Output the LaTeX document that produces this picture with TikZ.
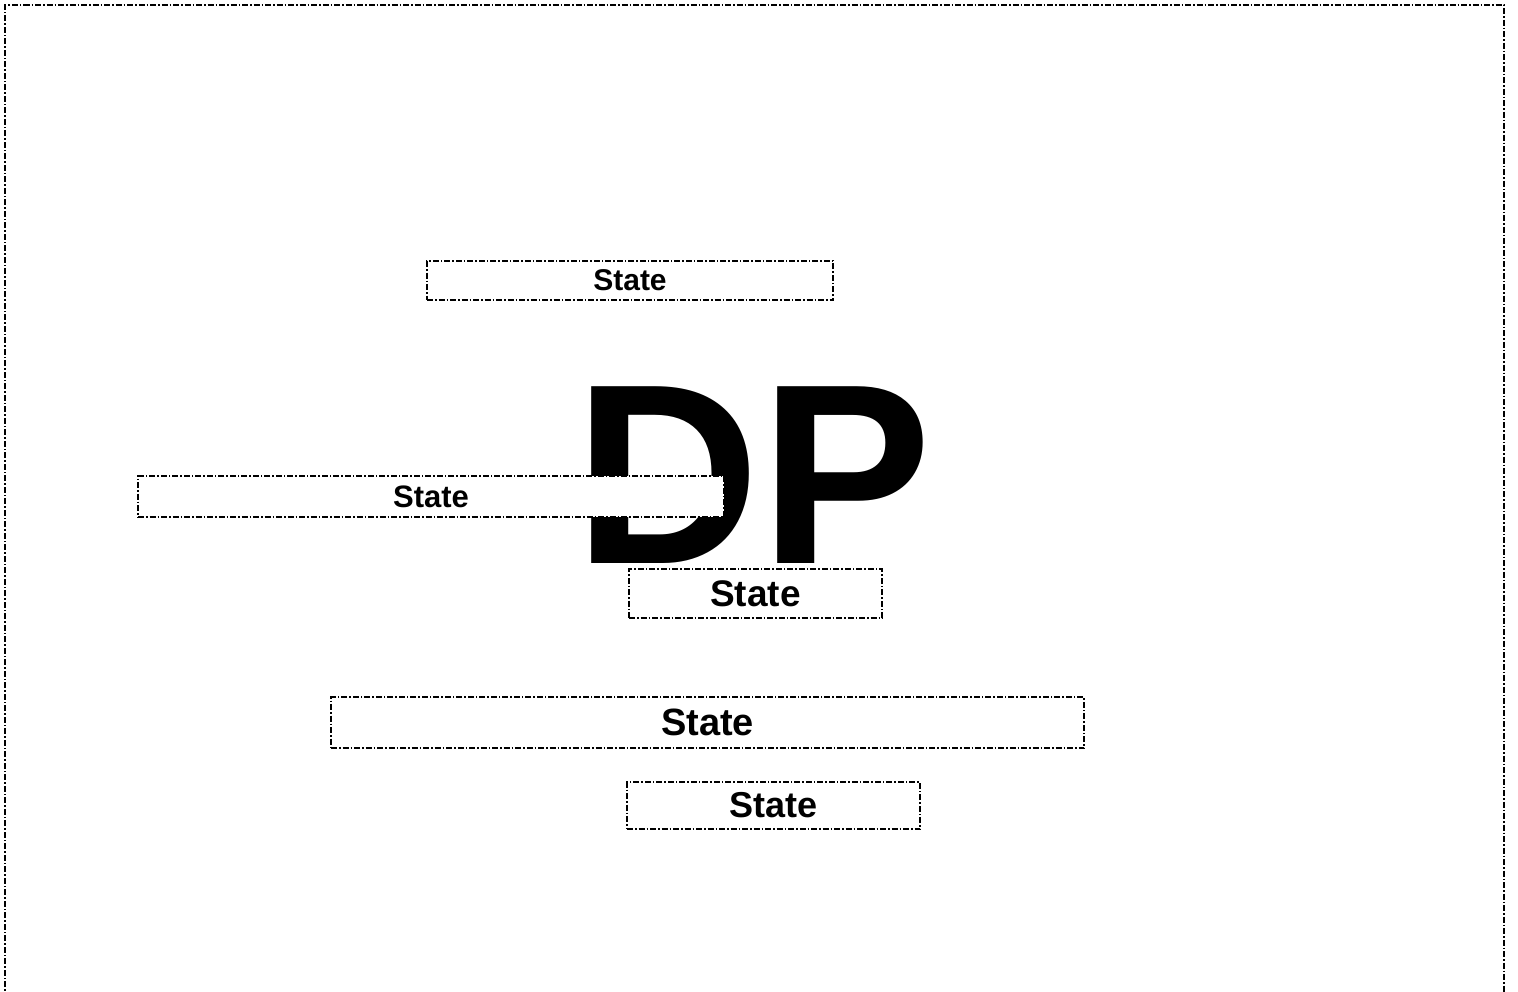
\documentclass[tikz,border=0pt]{standalone}
\usepackage{fontspec}
\setmainfont{Liberation Sans}
\tikzset{
  dashdot/.style={line width=1.2pt,dash pattern=on 6pt off 2pt on 1.5pt off 2pt},
  statebox/.style={dashdot,draw=black,fill=white,inner sep=0pt,font=\bfseries},
}
\begin{document}
\begin{tikzpicture}[x=1pt,y=-1pt]
  \useasboundingbox (0,0) rectangle (1518,991);
  \draw[dashdot,line width=1.5pt] (5,1010) -- (5,5) -- (1504,5) -- (1504,1010);
  \node[anchor=base,inner sep=0pt,font=\fontsize{257}{257}\selectfont\bfseries] (dp) at (753,563) {DP};
  \foreach \n/\x/\y/\w/\h/\s in {1/630/280.5/406/39/30, 2/431/496.5/586/41/31,
                                 3/755.5/593.5/253/49/37, 4/707.5/722.5/753/51/38,
                                 5/773.5/805.5/293/47/36}{
    \node[statebox,minimum width=\w pt,minimum height=\h pt,
          font=\fontsize{\s}{\s}\selectfont\bfseries] (state\n) at (\x,\y) {State};}
\end{tikzpicture}
\end{document}
